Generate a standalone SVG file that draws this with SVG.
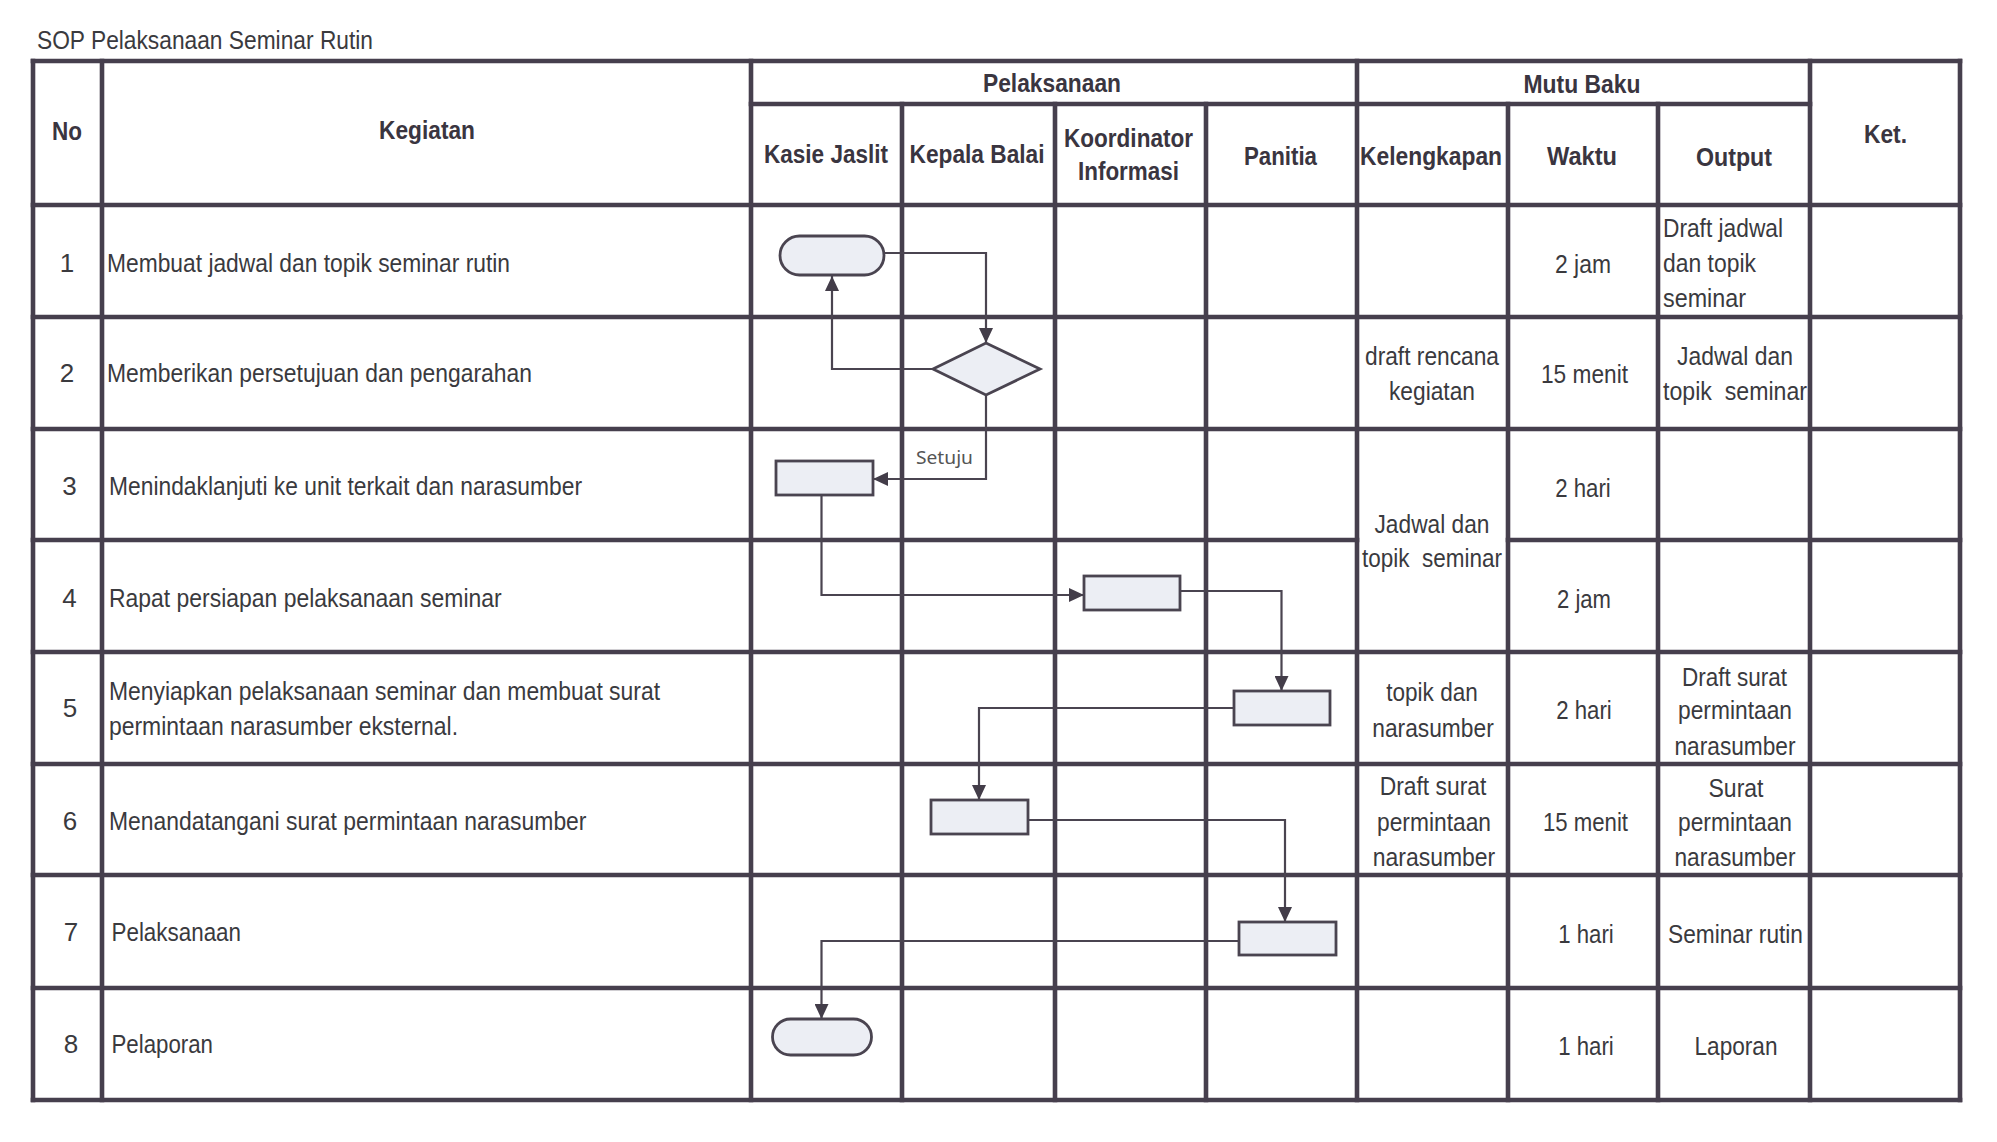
<svg xmlns="http://www.w3.org/2000/svg" width="1997" height="1142" viewBox="0 0 1997 1142">
<style>
.grid line{stroke:#463f4d;stroke-width:4.6;stroke-linecap:square}
.t{font-family:"Liberation Sans",Arial,sans-serif;font-size:26px;fill:#3a3a3e}
.h{font-family:"Liberation Sans",Arial,sans-serif;font-size:26px;font-weight:bold;fill:#3a3540}
.m{text-anchor:middle}
.shape{fill:#eceef4;stroke:#4a4450;stroke-width:2.8}
.con{fill:none;stroke:#4a4450;stroke-width:2.2}
.lbl{font-family:"Noto Sans","Open Sans",sans-serif;font-size:18px;fill:#555}
</style>
<defs>
<marker id="arr" viewBox="0 0 15 14" refX="15" refY="7" markerWidth="15" markerHeight="14" markerUnits="userSpaceOnUse" orient="auto">
<path d="M0,0 L15,7 L0,14 z" fill="#433d49"/>
</marker>
</defs>
<rect width="1997" height="1142" fill="#ffffff"/>

<text class="t" x="37" y="48.5" font-size="24" textLength="336" lengthAdjust="spacingAndGlyphs">SOP Pelaksanaan Seminar Rutin</text>

<g id="table" class="grid">
<line x1="33" y1="61" x2="1960" y2="61"/>
<line x1="751" y1="104" x2="1810" y2="104"/>
<line x1="33" y1="205" x2="1960" y2="205"/>
<line x1="33" y1="317" x2="1960" y2="317"/>
<line x1="33" y1="429" x2="1960" y2="429"/>
<line x1="33" y1="540" x2="1357" y2="540"/>
<line x1="1508" y1="540" x2="1960" y2="540"/>
<line x1="33" y1="652" x2="1960" y2="652"/>
<line x1="33" y1="764" x2="1960" y2="764"/>
<line x1="33" y1="875" x2="1960" y2="875"/>
<line x1="33" y1="988" x2="1960" y2="988"/>
<line x1="33" y1="1100" x2="1960" y2="1100"/>
<line x1="33" y1="61" x2="33" y2="1100"/>
<line x1="102" y1="61" x2="102" y2="1100"/>
<line x1="751" y1="61" x2="751" y2="1100"/>
<line x1="902" y1="104" x2="902" y2="1100"/>
<line x1="1055" y1="104" x2="1055" y2="1100"/>
<line x1="1206" y1="104" x2="1206" y2="1100"/>
<line x1="1357" y1="61" x2="1357" y2="1100"/>
<line x1="1508" y1="104" x2="1508" y2="1100"/>
<line x1="1658" y1="104" x2="1658" y2="1100"/>
<line x1="1810" y1="61" x2="1810" y2="1100"/>
<line x1="1960" y1="61" x2="1960" y2="1100"/>
</g>

<g id="headers">
<text class="h m" x="67" y="140" textLength="30" lengthAdjust="spacingAndGlyphs">No</text>
<text class="h m" x="427" y="139" textLength="96" lengthAdjust="spacingAndGlyphs">Kegiatan</text>
<text class="h m" x="1052" y="92" textLength="138" lengthAdjust="spacingAndGlyphs">Pelaksanaan</text>
<text class="h m" x="1582" y="92.5" textLength="117" lengthAdjust="spacingAndGlyphs">Mutu Baku</text>
<text class="h m" x="826" y="163" textLength="124" lengthAdjust="spacingAndGlyphs">Kasie Jaslit</text>
<text class="h m" x="977" y="163" textLength="135" lengthAdjust="spacingAndGlyphs">Kepala Balai</text>
<text class="h m" x="1128.5" y="147" textLength="129" lengthAdjust="spacingAndGlyphs">Koordinator</text>
<text class="h m" x="1128.5" y="180" textLength="101" lengthAdjust="spacingAndGlyphs">Informasi</text>
<text class="h m" x="1280.5" y="165" textLength="73" lengthAdjust="spacingAndGlyphs">Panitia</text>
<text class="h m" x="1431" y="165" textLength="142" lengthAdjust="spacingAndGlyphs">Kelengkapan</text>
<text class="h m" x="1582" y="165" textLength="70" lengthAdjust="spacingAndGlyphs">Waktu</text>
<text class="h m" x="1734" y="166" textLength="76" lengthAdjust="spacingAndGlyphs">Output</text>
<text class="h m" x="1885.5" y="143" textLength="43" lengthAdjust="spacingAndGlyphs">Ket.</text>
</g>

<g id="row1">
<text class="t m" x="67" y="271.5">1</text>
<text class="t" x="107" y="271.5" textLength="403" lengthAdjust="spacingAndGlyphs">Membuat jadwal dan topik seminar rutin</text>
<text class="t m" x="1583" y="273" textLength="56" lengthAdjust="spacingAndGlyphs">2 jam</text>
<text class="t" x="1663" y="237" textLength="120" lengthAdjust="spacingAndGlyphs">Draft jadwal</text>
<text class="t" x="1663" y="272" textLength="93" lengthAdjust="spacingAndGlyphs">dan topik</text>
<text class="t" x="1663" y="307" textLength="83" lengthAdjust="spacingAndGlyphs">seminar</text>
</g>

<g id="row2">
<text class="t m" x="67" y="381.7">2</text>
<text class="t" x="107" y="381.7" textLength="425" lengthAdjust="spacingAndGlyphs">Memberikan persetujuan dan pengarahan</text>
<text class="t m" x="1432" y="365" textLength="134" lengthAdjust="spacingAndGlyphs">draft rencana</text>
<text class="t m" x="1432" y="400" textLength="86" lengthAdjust="spacingAndGlyphs">kegiatan</text>
<text class="t m" x="1584.5" y="383" textLength="87" lengthAdjust="spacingAndGlyphs">15 menit</text>
<text class="t m" x="1735" y="365" textLength="116" lengthAdjust="spacingAndGlyphs">Jadwal dan</text>
<text class="t" x="1663" y="400" textLength="144" lengthAdjust="spacingAndGlyphs" xml:space="preserve">topik  seminar</text>
</g>

<g id="row3">
<text class="t m" x="69.5" y="495">3</text>
<text class="t" x="109" y="495" textLength="473" lengthAdjust="spacingAndGlyphs">Menindaklanjuti ke unit terkait dan narasumber</text>
<text class="t m" x="1583" y="497" textLength="55.5" lengthAdjust="spacingAndGlyphs">2 hari</text>
<text class="t m" x="1432" y="532.5" textLength="115" lengthAdjust="spacingAndGlyphs">Jadwal dan</text>
<text class="t" x="1362" y="567" textLength="140" lengthAdjust="spacingAndGlyphs" xml:space="preserve">topik  seminar</text>
</g>

<g id="row4">
<text class="t m" x="69.5" y="606.6">4</text>
<text class="t" x="109" y="606.6" textLength="392.7" lengthAdjust="spacingAndGlyphs">Rapat persiapan pelaksanaan seminar</text>
<text class="t m" x="1584" y="607.5" textLength="54" lengthAdjust="spacingAndGlyphs">2 jam</text>
</g>

<g id="row5">
<text class="t m" x="70" y="717">5</text>
<text class="t" x="109" y="700" textLength="551" lengthAdjust="spacingAndGlyphs">Menyiapkan pelaksanaan seminar dan membuat surat</text>
<text class="t" x="109" y="734.7" textLength="349" lengthAdjust="spacingAndGlyphs">permintaan narasumber eksternal.</text>
<text class="t m" x="1432" y="701" textLength="91.5" lengthAdjust="spacingAndGlyphs">topik dan</text>
<text class="t m" x="1433" y="737" textLength="121.5" lengthAdjust="spacingAndGlyphs">narasumber</text>
<text class="t m" x="1584" y="719" textLength="55.5" lengthAdjust="spacingAndGlyphs">2 hari</text>
<text class="t m" x="1734.5" y="685.6" textLength="105" lengthAdjust="spacingAndGlyphs">Draft surat</text>
<text class="t m" x="1735" y="719" textLength="114" lengthAdjust="spacingAndGlyphs">permintaan</text>
<text class="t m" x="1735" y="755" textLength="121" lengthAdjust="spacingAndGlyphs">narasumber</text>
</g>

<g id="row6">
<text class="t m" x="70" y="830">6</text>
<text class="t" x="109" y="830" textLength="477.5" lengthAdjust="spacingAndGlyphs">Menandatangani surat permintaan narasumber</text>
<text class="t m" x="1433" y="795" textLength="106.6" lengthAdjust="spacingAndGlyphs">Draft surat</text>
<text class="t m" x="1434" y="830.7" textLength="114" lengthAdjust="spacingAndGlyphs">permintaan</text>
<text class="t m" x="1434" y="866" textLength="122.5" lengthAdjust="spacingAndGlyphs">narasumber</text>
<text class="t m" x="1585.5" y="830.7" textLength="85" lengthAdjust="spacingAndGlyphs">15 menit</text>
<text class="t m" x="1736" y="797" textLength="55" lengthAdjust="spacingAndGlyphs">Surat</text>
<text class="t m" x="1735" y="830.7" textLength="114" lengthAdjust="spacingAndGlyphs">permintaan</text>
<text class="t m" x="1735" y="866" textLength="121" lengthAdjust="spacingAndGlyphs">narasumber</text>
</g>

<g id="row7">
<text class="t m" x="71" y="941">7</text>
<text class="t" x="111.5" y="941" textLength="129.5" lengthAdjust="spacingAndGlyphs">Pelaksanaan</text>
<text class="t m" x="1586" y="943" textLength="55.5" lengthAdjust="spacingAndGlyphs">1 hari</text>
<text class="t m" x="1735.5" y="943" textLength="135" lengthAdjust="spacingAndGlyphs">Seminar rutin</text>
</g>

<g id="row8">
<text class="t m" x="71" y="1053">8</text>
<text class="t" x="111.5" y="1053" textLength="101.5" lengthAdjust="spacingAndGlyphs">Pelaporan</text>
<text class="t m" x="1586" y="1055" textLength="55.5" lengthAdjust="spacingAndGlyphs">1 hari</text>
<text class="t m" x="1736" y="1055" textLength="83" lengthAdjust="spacingAndGlyphs">Laporan</text>
</g>

<g id="connectors">
<path class="con" d="M884,253 H986 V343" marker-end="url(#arr)"/>
<path class="con" d="M933,369 H832 V276" marker-end="url(#arr)"/>
<path class="con" d="M986,395 V479 H873" marker-end="url(#arr)"/>
<text class="lbl" x="916" y="464" textLength="57" lengthAdjust="spacingAndGlyphs">Setuju</text>
<path class="con" d="M821.5,495 V595 H1084" marker-end="url(#arr)"/>
<path class="con" d="M1180,591 H1281.5 V691" marker-end="url(#arr)"/>
<path class="con" d="M1234,708 H979 V800" marker-end="url(#arr)"/>
<path class="con" d="M1028,820 H1285 V922" marker-end="url(#arr)"/>
<path class="con" d="M1239,941 H821.5 V1019" marker-end="url(#arr)"/>
</g>

<g id="node1"><rect class="shape" x="780" y="236" width="104" height="39" rx="19.5"/></g>
<g id="node2"><polygon class="shape" points="933,369 986,343 1040,369 986,395"/></g>
<g id="node3"><rect class="shape" x="776" y="461" width="97" height="34"/></g>
<g id="node4"><rect class="shape" x="1084" y="576" width="96" height="34"/></g>
<g id="node5"><rect class="shape" x="1234" y="691" width="96" height="34"/></g>
<g id="node6"><rect class="shape" x="931" y="800" width="97" height="34"/></g>
<g id="node7"><rect class="shape" x="1239" y="922" width="97" height="33"/></g>
<g id="node8"><rect class="shape" x="772.5" y="1019" width="99" height="36" rx="18"/></g>
</svg>
